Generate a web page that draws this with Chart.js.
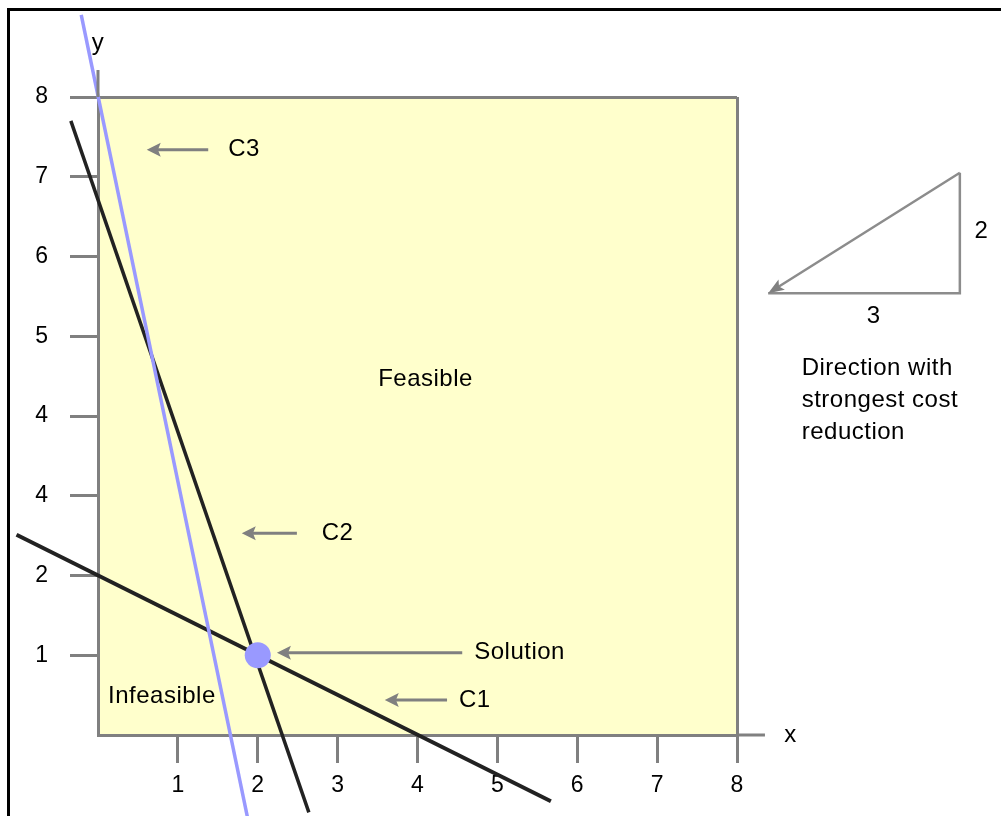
<!doctype html>
<html>
<head>
<meta charset="UTF-8">
<script src="https://cdn.jsdelivr.net/npm/chart.js@4/dist/chart.umd.min.js"></script>
<style>
  html, body { margin: 0; padding: 0; background: #fff; }
  #wrap { position: relative; width: 1001px; height: 816px; }
</style>
</head>
<body>
<div id="wrap"><canvas id="c" width="1001" height="816"></canvas></div>
<script>
// ——— DATA ———
const xTicks = [1, 2, 3, 4, 5, 6, 7, 8];
const xTickLabels = ["1", "2", "3", "4", "5", "6", "7", "8"];
const yTicks = [1, 2, 3, 4, 5, 6, 7, 8];
const yTickLabels = ["1", "2", "4", "4", "5", "6", "7", "8"]; // as printed in the original
const c1Line = [{ x: -1.02, y: 2.51 }, { x: 5.67, y: -0.83 }];
const c2Line = [{ x: -0.34, y: 7.7 }, { x: 2.64, y: -0.97 }];
const c3Line = [{ x: -0.21, y: 9.03 }, { x: 1.9, y: -1.17 }];
const solution = [{ x: 2, y: 1 }];

// labels and arrows (data units)
const arrows = [
  { from: [1.38, 7.34], to: [0.61, 7.34], text: "C3", textX: 1.63 },
  { from: [2.49, 2.53], to: [1.8, 2.53], text: "C2", textX: 2.8 },
  { from: [4.56, 1.03], to: [2.24, 1.03], text: "Solution", textX: 4.71 },
  { from: [4.37, 0.44], to: [3.59, 0.44], text: "C1", textX: 4.52 },
];
const costTriangle = { left: 8.39, right: 10.79, bottom: 5.54, top: 7.05, run: "3", rise: "2" };
const costText = ["Direction with", "strongest cost", "reduction"];

const GRAY = "#808080";
const FONT = "Liberation Sans, Arial, sans-serif";

function arrowHead(ctx, x, y, ang, len, half) {
  ctx.save();
  ctx.translate(x, y);
  ctx.rotate(ang);
  ctx.beginPath();
  ctx.moveTo(0, 0);
  ctx.lineTo(len, -half);
  ctx.lineTo(len * 0.8, 0);
  ctx.lineTo(len, half);
  ctx.closePath();
  ctx.fill();
  ctx.restore();
}

const decor = {
  id: "decor",
  beforeDraw(chart) {
    const { ctx, chartArea: a } = chart;
    ctx.save();
    ctx.fillStyle = "#ffffcc";
    ctx.fillRect(a.left, a.top, a.right - a.left, a.bottom - a.top);
    ctx.restore();
  },
  afterDatasetsDraw(chart) {
    const { ctx, scales } = chart;
    const X = (v) => scales.x.getPixelForValue(v);
    const Y = (v) => scales.y.getPixelForValue(v);
    ctx.save();

    // axis extensions
    ctx.strokeStyle = GRAY;
    ctx.lineWidth = 3;
    ctx.beginPath();
    ctx.moveTo(X(0), Y(8));
    ctx.lineTo(X(0), Y(8.34));
    ctx.moveTo(X(8), Y(0));
    ctx.lineTo(X(8.35), Y(0));
    ctx.stroke();

    ctx.fillStyle = "#000";
    ctx.font = "24px " + FONT;
    ctx.letterSpacing = "0.5px";
    ctx.textAlign = "center";
    ctx.textBaseline = "middle";
    ctx.fillText("x", X(8.67), Y(0));
    ctx.fillText("y", X(0), Y(8.67));
    ctx.fillText("Feasible", X(4.1), Y(4.46));
    ctx.fillText("Infeasible", X(0.8), Y(0.49));

    // arrows with labels
    arrows.forEach((a) => {
      const x1 = X(a.from[0]), y1 = Y(a.from[1]);
      const x2 = X(a.to[0]), y2 = Y(a.to[1]);
      ctx.strokeStyle = GRAY;
      ctx.fillStyle = GRAY;
      ctx.lineWidth = 3;
      ctx.beginPath();
      ctx.moveTo(x1, y1);
      ctx.lineTo(x2 + 8, y2);
      ctx.stroke();
      arrowHead(ctx, x2, y2, 0, 14, 7);
      ctx.fillStyle = "#000";
      ctx.textAlign = "left";
      ctx.fillText(a.text, X(a.textX), y1);
    });

    // cost direction triangle
    const t = costTriangle;
    const L = X(t.left), R = X(t.right), B = Y(t.bottom), T = Y(t.top);
    ctx.strokeStyle = "#8c8c8c";
    ctx.fillStyle = "#808080";
    ctx.lineWidth = 2.5;
    ctx.beginPath();
    ctx.moveTo(R, T);
    ctx.lineTo(R, B);
    ctx.lineTo(L, B);
    ctx.moveTo(R, T);
    ctx.lineTo(L + 8, B - 5);
    ctx.stroke();
    arrowHead(ctx, L, B, Math.atan2(T - B, R - L), 16, 6);

    ctx.fillStyle = "#000";
    ctx.textAlign = "center";
    ctx.fillText(t.rise, X(11.06), Y(6.31));
    ctx.fillText(t.run, X(9.71), Y(5.25));
    ctx.textAlign = "left";
    costText.forEach((s, i) => ctx.fillText(s, X(8.81), Y(4.6 - i * 0.4)));

    // page frame
    ctx.fillStyle = "#000";
    ctx.fillRect(7, 8, 3, 808);
    ctx.fillRect(7, 8, 994, 3);
    ctx.restore();
  },
};

const axisGrid = {
  color: (c) => (c.tick && c.tick.value === 8 ? GRAY : "rgba(0,0,0,0)"),
  tickColor: GRAY,
  lineWidth: 3,
  tickLength: 28,
  drawOnChartArea: true,
};

new Chart(document.getElementById("c"), {
  type: "scatter",
  data: {
    datasets: [
      { data: solution, pointRadius: 13, pointHoverRadius: 13, backgroundColor: "#9999ff", borderWidth: 0, clip: false },
      { type: "line", data: c3Line, borderColor: "#9999ff", borderWidth: 3.5, pointRadius: 0, clip: false },
      { type: "line", data: c2Line, borderColor: "#222", borderWidth: 3.5, pointRadius: 0, clip: false },
      { type: "line", data: c1Line, borderColor: "#222", borderWidth: 4, pointRadius: 0, clip: false },
    ],
  },
  options: {
    responsive: false,
    animation: false,
    devicePixelRatio: 1,
    layout: { padding: { left: 0, top: 97, right: 264, bottom: 0 } },
    plugins: { legend: { display: false }, tooltip: { enabled: false } },
    scales: {
      x: {
        type: "linear",
        min: 0,
        max: 8,
        afterFit: (s) => { s.height = 81; },
        afterBuildTicks: (s) => { s.ticks = xTicks.map((v) => ({ value: v })); },
        grid: axisGrid,
        border: { display: true, color: GRAY, width: 3 },
        ticks: {
          padding: 9,
          color: "#000",
          font: { family: FONT, size: 23 },
          maxRotation: 0,
          callback: (v) => xTickLabels[xTicks.indexOf(v)],
        },
      },
      y: {
        type: "linear",
        min: 0,
        max: 8,
        afterFit: (s) => { s.width = 98; },
        afterBuildTicks: (s) => { s.ticks = yTicks.map((v) => ({ value: v })); },
        grid: axisGrid,
        border: { display: true, color: GRAY, width: 3 },
        ticks: {
          padding: 22,
          color: "#000",
          font: { family: FONT, size: 23 },
          callback: (v) => yTickLabels[yTicks.indexOf(v)],
        },
      },
    },
  },
  plugins: [decor],
});
</script>
</body>
</html>
